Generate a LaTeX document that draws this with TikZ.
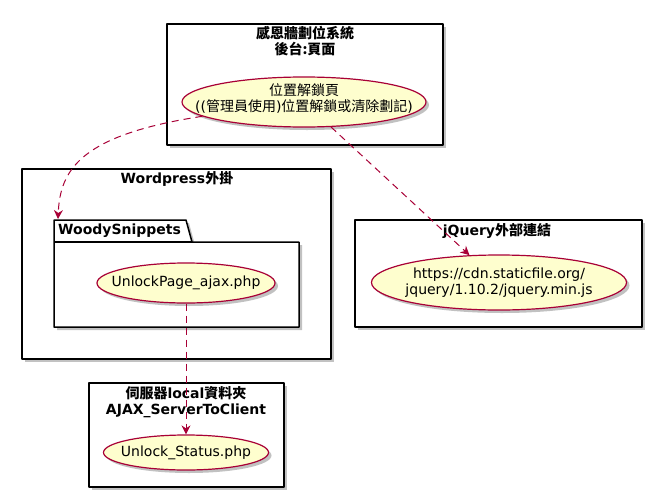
\documentclass[tikz,border=0pt]{standalone}
\usepackage{fontspec}
\setmainfont{DejaVu Sans}
\newfontfamily\cjk{Noto Sans CJK TC}
\usetikzlibrary{shapes.geometric,shadows,arrows.meta}
\definecolor{umlred}{HTML}{A80036}
\definecolor{umlyellow}{HTML}{FEFECE}
\begin{document}
\begin{tikzpicture}[x=1pt,y=-1pt,>={Stealth[length=9pt,width=9pt,inset=3pt]},line join=round,font=\fontsize{14}{16}\selectfont,
	shade/.style={drop shadow={shadow xshift=3pt,shadow yshift=-3pt,fill=black!40,opacity=.6}},
	frame/.style={draw,line width=1.5pt,fill=white,shade,inner sep=0pt},
	ttl/.style={font=\fontsize{14}{16}\selectfont\bfseries,align=center,inner sep=0pt},
	usecase/.style={ellipse,draw=umlred,line width=1.2pt,fill=umlyellow,shade,inner sep=0pt},
	uctext/.style={align=center,inner sep=0pt},
	link/.style={->,umlred,line width=1pt,dash pattern=on 7pt off 5pt}]
			\useasboundingbox (0,0) rectangle (651,498);
			\node[frame,minimum width=276,minimum height=121] (backend) at (305,84.5) {};
			\node[frame,minimum width=309,minimum height=190] (wordpress) at (176.5,264) {};
			\node[frame,minimum width=287,minimum height=107] (jquery) at (498.5,273.5) {};
			\node[frame,minimum width=195,minimum height=104] (server) at (186.5,435) {};
			\node[ttl] (backend title) at (305,41.5) {\cjk 感恩牆劃位系統\\\cjk 後台:頁面};
			\node[ttl] (wordpress title) at (177,179) {Wordpress{\cjk 外掛}};
			\node[ttl] (jquery title) at (497,231) {jQuery{\cjk 外部連結}};
			\node[ttl] (server title) at (186,402) {{\cjk 伺服器}local{\cjk 資料夾}\\AJAX\_ServerToClient};
			\draw[frame] (54,220)--(186,220)--(192,242)--(299,242)--(299,327)--(54,327)--cycle;
			\draw[line width=1.5pt] (54,242)--(192,242);
			\node[ttl,anchor=west] (woody title) at (58,231) {WoodySnippets};
			\coordinate (woody) at (58,219);
			\node[usecase,minimum width=244,minimum height=50,label={[uctext,yshift=4pt]center:{\cjk 位置解鎖頁}\\(({\cjk 管理員使用}){\cjk 位置解鎖或清除劃記})}] (lockpage) at (304,102) {};
			\node[usecase,minimum width=178,minimum height=40,label={[uctext]center:UnlockPage\_ajax.php}] (unlockajax) at (186,283) {};
			\node[usecase,minimum width=255,minimum height=55,label={[uctext]center:https://cdn.staticfile.org/\\jquery/1.10.2/jquery.min.js}] (jq) at (499,282.5) {};
			\node[usecase,minimum width=165,minimum height=35,label={[uctext]center:Unlock\_Status.php}] (status) at (186,452.5) {};
			\draw[link] (lockpage.188) .. controls (80,135) and (60,170) .. (woody);
			\draw[link] (lockpage) -- (jq);
			\draw[link] (unlockajax) -- (status);
\end{tikzpicture}
\end{document}
